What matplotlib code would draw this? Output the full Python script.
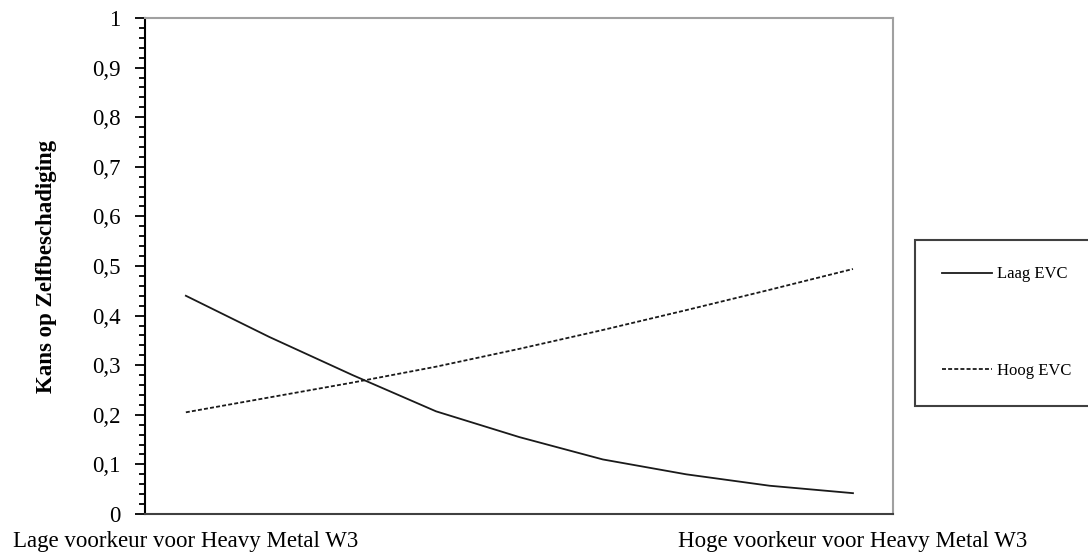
import numpy as np
import matplotlib
matplotlib.use("Agg")
import matplotlib.pyplot as plt
from matplotlib.ticker import MultipleLocator, FuncFormatter

# waardes (9 punten van lage naar hoge voorkeur)
steps = np.arange(9)
laag_evc = [0.44, 0.357, 0.28, 0.207, 0.155, 0.11, 0.08, 0.057, 0.042]
hoog_evc = [0.205, 0.235, 0.265, 0.297, 0.333, 0.371, 0.411, 0.452, 0.494]
series_labels = ['Laag EVC', 'Hoog EVC']
x_labels = ['Lage voorkeur voor Heavy Metal W3', 'Hoge voorkeur voor Heavy Metal W3']
y_title = 'Kans op Zelfbeschadiging'

plt.rcParams['font.family'] = ['Liberation Serif', 'DejaVu Serif']

fig = plt.figure(figsize=(10.88, 5.58), dpi=100)
ax = fig.add_axes([145/1088, 44/558, 748/1088, 496/558])

ax.plot(steps, laag_evc, color='#1a1a1a', lw=1.3, label=series_labels[0])
ax.plot(steps, hoog_evc, color='#1a1a1a', lw=1.3, dashes=(2.2, 1.2), label=series_labels[1])

ax.set_xlim(-0.49, 8.48)
ax.set_ylim(0, 1)
ax.yaxis.set_major_locator(MultipleLocator(0.1))
ax.yaxis.set_minor_locator(MultipleLocator(0.02))
ax.yaxis.set_major_formatter(FuncFormatter(lambda v, p: ('%g' % round(v, 1)).replace('.', ',')))
ax.tick_params(axis='y', which='major', length=7, width=1.3, direction='out', labelsize=16.5, pad=10.5)
ax.tick_params(axis='y', which='minor', length=4.3, width=1.3, direction='out')

# categorie-labels onder het eerste en laatste punt
ax.set_xticks([steps[0], steps[-1]])
ax.set_xticklabels(x_labels)
ax.tick_params(axis='x', length=0, labelsize=16.5, pad=12.5)

ax.set_ylabel(y_title, fontsize=16.5, fontweight='bold')
ax.yaxis.set_label_coords(-0.118, 0.5)

ax.spines['left'].set_color('black')
ax.spines['left'].set_linewidth(1.5)
ax.spines['bottom'].set_color('#404040')
ax.spines['bottom'].set_linewidth(1.5)
for s in ['top', 'right']:
    ax.spines[s].set_color('#a0a0a0')
    ax.spines[s].set_linewidth(1.5)

leg = ax.legend(loc='center left', bbox_to_anchor=(915/1088, 0.4215, 0.3, 0.0),
                bbox_transform=fig.transFigure, mode='expand', fontsize=12,
                handlelength=3.0, handletextpad=0.3, labelspacing=4.85,
                borderpad=1.6, fancybox=False, framealpha=1, borderaxespad=0)
leg.get_frame().set_edgecolor('#404040')
leg.get_frame().set_linewidth(1.5)

fig.savefig('out.png', dpi=100)
